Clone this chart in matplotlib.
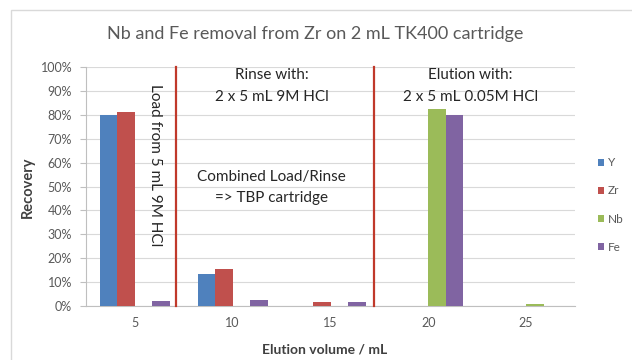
import matplotlib
matplotlib.use("Agg")
import matplotlib.pyplot as plt
import numpy as np
from matplotlib.patches import Rectangle
from matplotlib.ticker import PercentFormatter

categories = ["5", "10", "15", "20", "25"]
series_names = ["Y", "Zr", "Nb", "Fe"]
Y = [80, 13.5, 0, 0, 0]
Zr = [81, 15.5, 1.5, 0, 0]
Nb = [0, 0, 0, 82.5, 1]
Fe = [2, 2.5, 1.5, 80, 0]
colors = ["#4F81BD", "#C0504D", "#9BBB59", "#8064A2"]

plt.rcParams['font.family'] = ['Lato', 'DejaVu Sans']
txt = "#595959"
ann = "#262626"

fig = plt.figure(figsize=(6.32, 3.6), dpi=100)
fig.patches.append(Rectangle((11/632, -0.05), 1.0, (360-10)/360 + 0.05,
                             transform=fig.transFigure, fill=False,
                             edgecolor="#D9D9D9", linewidth=1.0))
ax = fig.add_axes([86/632, 54/360, 489/632, 239/360])

x = np.arange(len(categories))
w = 0.179
for i, (name, vals) in enumerate(zip(series_names, [Y, Zr, Nb, Fe])):
    ax.bar(x + (i - 1.5) * w, vals, w, color=colors[i], label=name, zorder=3)

ax.set_xlim(-0.5, 4.5)
ax.set_ylim(0, 100)
ax.set_yticks(np.arange(0, 101, 10))
ax.yaxis.set_major_formatter(PercentFormatter(decimals=0))
ax.set_xticks(x)
ax.set_xticklabels(categories)
ax.grid(axis="y", color="#D9D9D9", linewidth=0.8, zorder=0)
for s in ["top", "right"]:
    ax.spines[s].set_visible(False)
for s in ["left", "bottom"]:
    ax.spines[s].set_color("#BFBFBF")
ax.tick_params(axis="y", colors="#BFBFBF", labelcolor=txt, labelsize=9, length=4, pad=6)
ax.tick_params(axis="x", length=0, labelcolor=txt, labelsize=9, pad=8)

# separator lines
for xv in [0.42, 2.44]:
    ax.plot([xv, xv], [0, 100], color="#C0392B", linewidth=1.6, zorder=4, clip_on=False)

fs = 11
ax.text(0.21, 59, "Load from 5 mL 9M HCl", rotation=270, ha="center", va="center",
        fontsize=fs, color=ann)
ax.text(1.40, 96.5, "Rinse with:", ha="center", va="center", fontsize=fs, color=ann)
ax.text(1.40, 87.5, "2 x 5 mL 9M HCl", ha="center", va="center", fontsize=fs, color=ann)
ax.text(3.43, 96.5, "Elution with:", ha="center", va="center", fontsize=fs, color=ann)
ax.text(3.43, 87.5, "2 x 5 mL 0.05M HCl", ha="center", va="center", fontsize=fs, color=ann)
ax.text(1.40, 54, "Combined Load/Rinse", ha="center", va="center", fontsize=fs, color=ann)
ax.text(1.40, 45, "=> TBP cartridge", ha="center", va="center", fontsize=fs, color=ann)

fig.text(315/632, 1 - 34/360, "Nb and Fe removal from Zr on 2 mL TK400 cartridge",
         ha="center", va="center", fontsize=13, color=txt)
fig.text(28/632, 1 - 187/360, "Recovery", rotation=90, ha="center", va="center",
         fontsize=10.5, fontweight="bold", color="#404040")
fig.text(325/632, 1 - 350/360, "Elution volume / mL", ha="center", va="center",
         fontsize=10, fontweight="bold", color="#404040")

leg = fig.legend(loc="center left", bbox_to_anchor=(592/632, 1 - 205/360), frameon=False,
                 fontsize=8.5, handlelength=0.55, handleheight=0.55, handletextpad=0.3,
                 labelspacing=1.45, borderpad=0)
for t in leg.get_texts():
    t.set_color(txt)

fig.savefig("out.png", dpi=100)
